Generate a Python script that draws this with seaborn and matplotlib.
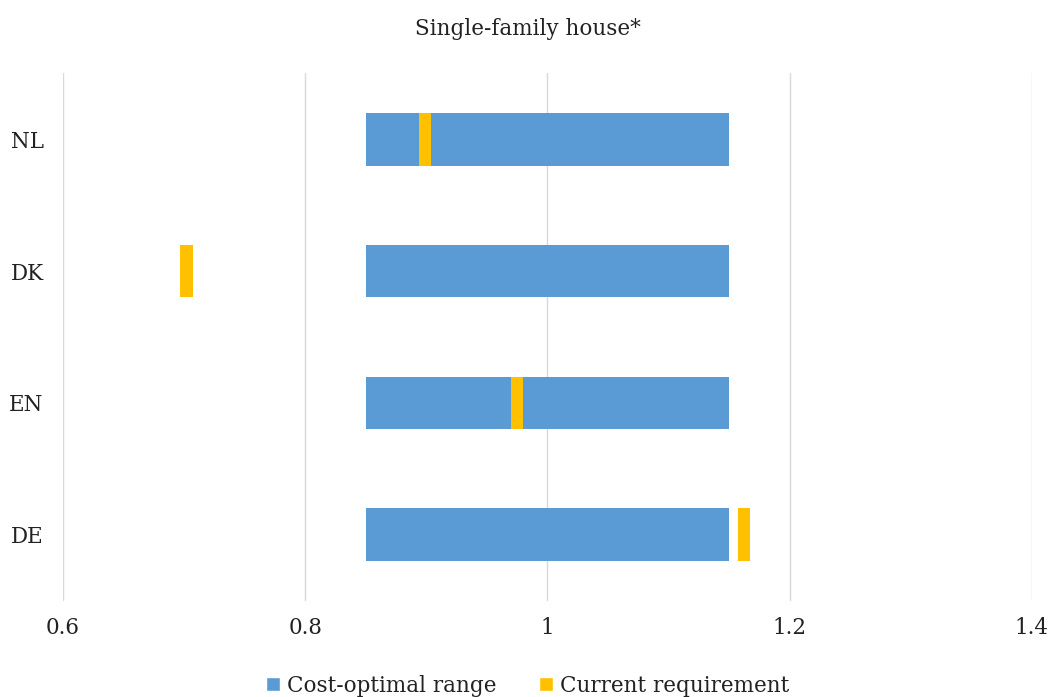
import matplotlib
matplotlib.use("Agg")
import matplotlib.pyplot as plt
import seaborn as sns
import pandas as pd
from matplotlib.patches import Patch

countries = ["NL", "DK", "EN", "DE"]
range_low = [0.85, 0.85, 0.85, 0.85]
range_high = [1.15, 1.15, 1.15, 1.15]
current_requirement = [0.899, 0.702, 0.975, 1.162]
marker_width = 0.01

sns.set_theme(style="white")
plt.rcParams["font.family"] = ["DejaVu Serif"]

blue = "#5B9BD5"
yellow = "#FFC000"
text_color = "#222222"
fs = 15.5

df = pd.DataFrame({
    "country": countries,
    "low": range_low,
    "span": [h - l for l, h in zip(range_low, range_high)],
    "req_left": [v - marker_width / 2 for v in current_requirement],
    "req_width": [marker_width] * len(countries),
})

fig = plt.figure(figsize=(10.55, 6.97), dpi=100)
ax = fig.add_axes([0.0597, 0.138, 0.9183, 0.757])

# Cost-optimal range as a floating bar, current requirement as a thin marker bar
sns.barplot(data=df, y="country", x="span", left=df["low"], color=blue,
            width=0.4, orient="h", saturation=1, ax=ax, linewidth=0)
sns.barplot(data=df, y="country", x="req_width", left=df["req_left"], color=yellow,
            width=0.4, orient="h", saturation=1, ax=ax, linewidth=0)

ax.set_xlim(0.6, 1.4)
ax.set_ylim(3.5, -0.5)
ax.set_xticks([0.6, 0.8, 1.0, 1.2, 1.4])
ax.set_xticklabels(["0.6", "0.8", "1", "1.2", "1.4"])
ax.grid(axis="x", color="#d9d9d9", linewidth=1)
ax.set_axisbelow(True)
for s in ax.spines.values():
    s.set_visible(False)
ax.tick_params(axis="both", length=0, labelsize=fs, colors=text_color)
ax.tick_params(axis="x", pad=12)
ax.tick_params(axis="y", pad=14)
ax.set_xlabel("")
ax.set_ylabel("")

fig.text(0.5, 0.958, "Single-family house*", ha="center", va="center", fontsize=fs, color=text_color)

handles = [Patch(facecolor=blue, label="Cost-optimal range"),
           Patch(facecolor=yellow, label="Current requirement")]
fig.legend(handles=handles, loc="center", bbox_to_anchor=(0.5, 0.016), ncol=2, frameon=False,
           fontsize=fs, handlelength=0.65, handleheight=0.65, handletextpad=0.3, columnspacing=2.0,
           labelcolor=text_color)

fig.savefig("out.png", dpi=100)
